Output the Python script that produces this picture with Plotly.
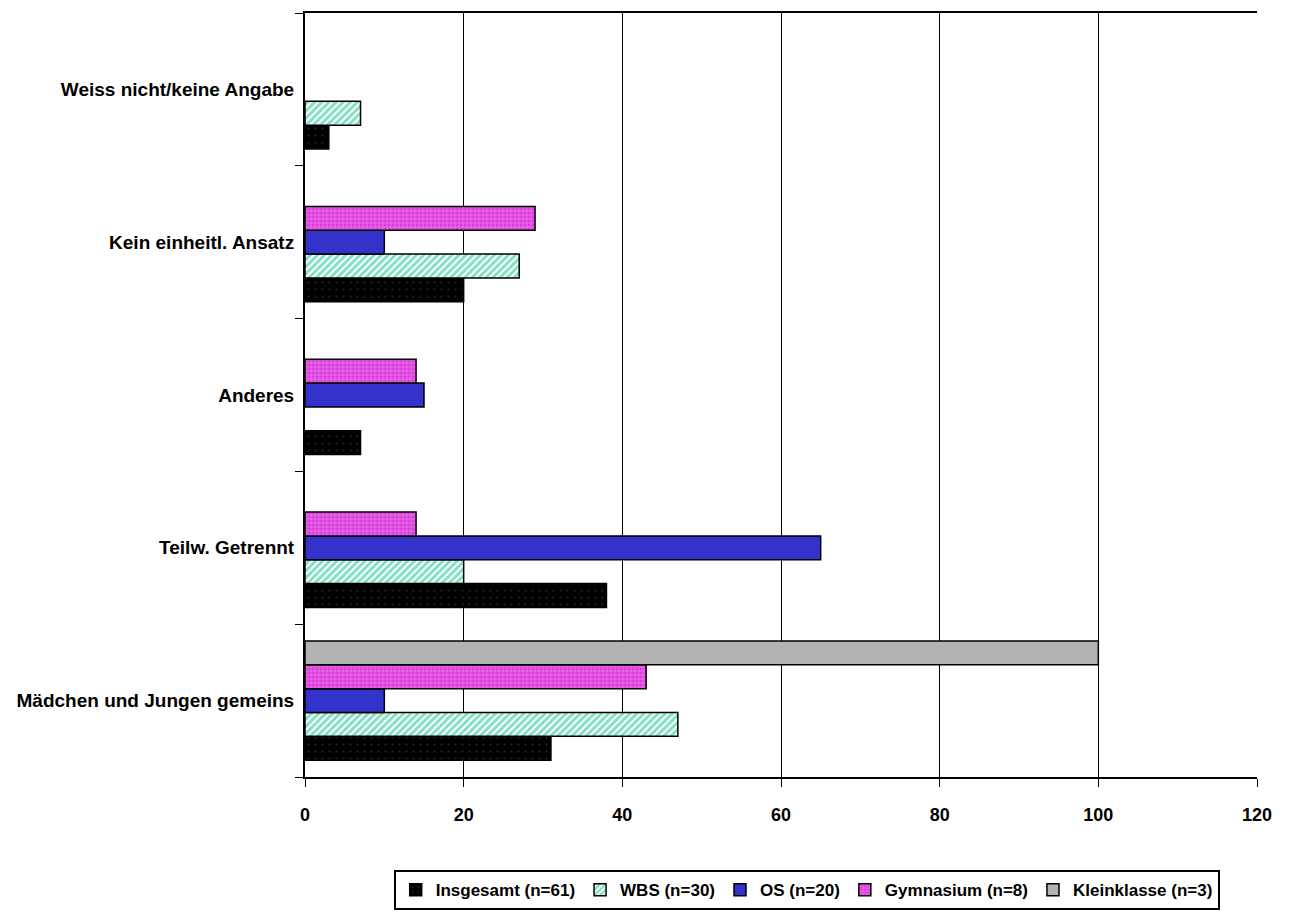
import plotly.graph_objects as go

# Categories, bottom to top
categories = [
    "Mädchen und Jungen gemeins",
    "Teilw. Getrennt",
    "Anderes",
    "Kein einheitl. Ansatz",
    "Weiss nicht/keine Angabe",
]

insgesamt = [31, 38, 7, 20, 3]
wbs = [47, 20, 0, 27, 7]
os_vals = [10, 65, 15, 10, 0]
gymnasium = [43, 14, 14, 29, 0]
kleinklasse = [100, 0, 0, 0, 0]

x_ticks = [0, 20, 40, 60, 80, 100, 120]

FONT = "Liberation Sans, Arial, sans-serif"

series = [
    ("Insgesamt (n=61)", insgesamt,
     dict(color="#000000", pattern=dict(shape=".", fgcolor="#4a4a4a", bgcolor="#000000", size=7, solidity=0.08))),
    ("WBS (n=30)", wbs,
     dict(color="#ffffff", pattern=dict(shape="/", fgcolor="#0cbd8c", bgcolor="#ffffff", size=5, solidity=0.6))),
    ("OS (n=20)", os_vals,
     dict(color="#3333cc")),
    ("Gymnasium (n=8)", gymnasium,
     dict(color="#dc3cdc", pattern=dict(shape="+", fgcolor="#f7a8f7", bgcolor="#dc3cdc", size=4, solidity=0.4))),
    ("Kleinklasse (n=3)", kleinklasse,
     dict(color="#b3b3b3")),
]

fig = go.Figure()
for name, vals, marker in series:
    marker = dict(marker)
    # no outline on empty bars, so nothing is drawn for a zero value
    marker["line"] = dict(color="#000000", width=[1.5 if v else 0 for v in vals])
    fig.add_trace(go.Bar(
        y=categories, x=vals, name=name, orientation="h", marker=marker,
    ))

fig.update_layout(
    width=1293, height=915,
    margin=dict(l=305, r=36, t=13, b=138),
    barmode="group",
    bargap=0.22,
    bargroupgap=0,
    plot_bgcolor="#ffffff",
    paper_bgcolor="#ffffff",
    font=dict(family=FONT, size=19, color="#000000", weight="bold"),
    showlegend=True,
    legend=dict(
        orientation="h",
        x=0.527, xanchor="center",
        yref="container",
        y=0.049, yanchor="top",
        bordercolor="#000000", borderwidth=2,
        font=dict(family=FONT, size=17, color="#000000", weight="bold"),
        itemwidth=30,
        tracegroupgap=0,
    ),
    xaxis=dict(
        range=[0, 120],
        tickvals=x_ticks,
        ticktext=[str(v) for v in x_ticks],
        showgrid=True, gridcolor="#000000", gridwidth=1,
        showline=True, linecolor="#000000", linewidth=2, mirror=True,
        ticks="outside", ticklen=8, tickcolor="#000000", tickwidth=1,
        ticklabelstandoff=12,
        zeroline=False,
        tickfont=dict(family=FONT, size=18, weight="bold"),
    ),
    yaxis=dict(
        categoryorder="array", categoryarray=categories,
        showgrid=False,
        showline=True, linecolor="#000000", linewidth=2,
        ticks="outside", ticklen=8, tickcolor="#000000", tickwidth=1,
        tickson="boundaries",
        ticklabelstandoff=5,
        tickfont=dict(family=FONT, size=19, weight="bold"),
    ),
)

fig.write_html("out.html")
